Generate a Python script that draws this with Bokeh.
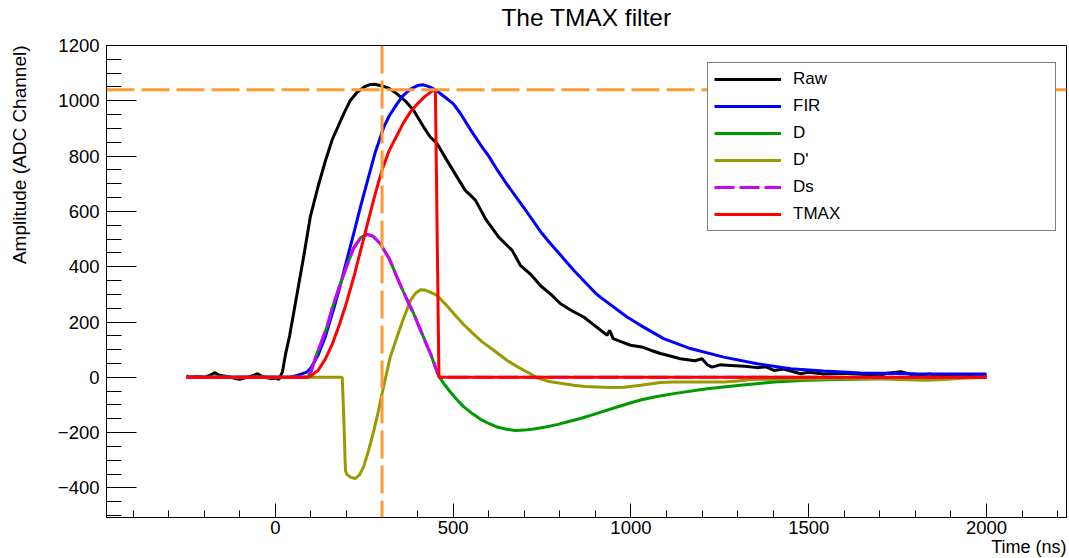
import numpy as np
from bokeh.plotting import figure
from bokeh.models import (Range1d, SingleIntervalTicker, FixedTicker, LinearAxis, Span,
                          Title, Legend, LegendItem, CustomJSTickFormatter)
from bokeh.embed import file_html
from bokeh.resources import INLINE

# ---- waveform samples (time in ns, amplitude in ADC channels) ----
raw_t = [-250, -240, -220, -200, -180, -170, -160, -145, -130, -110, -100, -80, -60, -50,
         -40, -20, -10, 0, 10, 20, 28, 40, 61, 80, 98, 120, 141, 160, 192, 210, 230, 250,
         267, 280, 305, 320, 342, 365, 389, 417, 435, 455, 480, 511, 534, 549, 563, 591,
         628, 666, 689, 720, 745, 775, 802, 835, 867, 900, 933, 940, 950, 970, 999, 1030,
         1055, 1083, 1102, 1139, 1180, 1200, 1215, 1228, 1250, 1280, 1320, 1355, 1380,
         1402, 1430, 1477, 1500, 1542, 1600, 1646, 1700, 1720, 1760, 1800, 1840, 1880,
         1920, 1960, 2000]
raw_v = [5, 0, 3, 0, 10, 17, 8, 5, 2, -5, -7, 0, 8, 13,
         5, -3, -5, -3, -7, 20, 80, 150, 302, 440, 579, 690, 784, 860, 953, 1000, 1031, 1050,
         1059, 1060, 1052, 1045, 1025, 1000, 965, 905, 870, 845, 790, 724, 676, 658, 640, 573,
         507, 459, 405, 370, 332, 300, 266, 240, 218, 185, 152, 170, 140, 130, 116, 110,
         98, 86, 80, 67, 60, 67, 45, 37, 45, 43, 40, 35, 38,
         25, 30, 13, 18, 12, 15, 11, 5, 15, 20, 5, 12, 3,
         10, 2, 8]

fir_t = [-250, 40, 61, 89, 100, 120, 140, 164, 180, 200, 220, 240, 267, 280, 305, 320, 342,
         360, 380, 400, 415, 430, 445, 460, 480, 500, 520, 550, 580, 600, 624, 650, 698, 750,
         774, 800, 839, 900, 914, 989, 1027, 1092, 1167, 1261, 1355, 1449, 1542, 1646, 1800,
         2000]
fir_v = [0, 0, 7, 19, 35, 80, 145, 248, 320, 420, 519, 620, 748, 810, 905, 945, 989,
         1020, 1042, 1055, 1058, 1052, 1043, 1030, 1010, 990, 955, 893, 835, 800, 750, 700, 615, 520,
         483, 445, 387, 305, 290, 218, 188, 140, 104, 73, 49, 31, 23, 16, 13,
         12]

d_t = [-250, 90, 100, 117, 130, 145, 160, 183, 200, 220, 240, 258, 275, 295, 320, 342, 365,
       389, 410, 436, 455, 462, 475, 492, 510, 530, 555, 577, 600, 624, 650, 675, 700, 727,
       760, 792, 825, 858, 900, 950, 1000, 1027, 1070, 1120, 1214, 1308, 1402, 1495, 1589,
       1700, 1800, 1900, 2000]
d_v = [0, 0, 20, 86, 130, 182, 250, 339, 400, 467, 505, 517, 510, 483, 430, 362, 295,
       230, 165, 86, 19, 0, -25, -53, -80, -107, -132, -152, -167, -180, -188, -192, -191, -187,
       -180, -171, -160, -149, -132, -112, -92, -82, -70, -59, -41, -29, -17, -11, -8,
       -5, -3, -1, 0]

dp_t = [-250, 188, 192, 197, 201, 212, 225, 237, 248, 262, 277, 290, 300, 312, 323, 342, 360,
        380, 395, 408, 420, 435, 455, 480, 502, 530, 550, 580, 614, 652, 685, 717, 736, 770,
        811, 839, 870, 942, 980, 1027, 1083, 1120, 1200, 1261, 1300, 1336, 1400, 1500, 1600,
        1700, 1770, 1830, 1880, 1930, 2000]
dp_v = [0, 0, -131, -336, -351, -362, -366, -352, -324, -265, -192, -120, -59, 10, 73, 146, 212,
        278, 305, 317, 316, 308, 296, 262, 230, 190, 165, 130, 98, 61, 35, 13, -2, -15,
        -23, -29, -33, -37, -36, -29, -19, -17, -17, -17, -13, -8, -7, -6, -5,
        -5, -9, -11, -8, -3, 0]

ds_t = [-250, 90, 100, 117, 130, 145, 160, 183, 200, 220, 240, 258, 275, 295, 320, 342, 365,
        389, 410, 436, 455, 462, 2000]
ds_v = [0, 0, 20, 86, 130, 182, 250, 339, 400, 467, 505, 517, 510, 483, 430, 362, 295,
        230, 165, 86, 19, 0, 0]

tmax_t = [-250, 90, 100, 120, 140, 160, 180, 200, 220, 240, 260, 280, 300, 320, 340, 360,
          380, 400, 420, 440, 450, 460, 2000]
tmax_v = [0, 0, 5, 25, 65, 120, 190, 270, 360, 460, 560, 660, 750, 820, 870, 920,
          960, 990, 1015, 1034, 1040, 0, 0]

# markers of the TMAX result
mark_time = 300
mark_amp = 1040

FONT = "Liberation Sans"

p = figure(width=1069, height=558, output_backend="svg", toolbar_location=None,
           title=None,
           x_range=Range1d(-475, 2225), y_range=Range1d(-507, 1200),
           min_border_left=106, min_border_right=3, min_border_top=45,
           min_border_bottom=41)
p.background_fill_color = "white"
p.border_fill_color = "white"
p.outline_line_color = "black"
p.outline_line_width = 1
p.xgrid.visible = False
p.ygrid.visible = False

p.xaxis.ticker = SingleIntervalTicker(interval=500, num_minor_ticks=5)
p.yaxis.ticker = SingleIntervalTicker(interval=200, num_minor_ticks=4)
minus_fmt = "return tick < 0 ? '\u2212' + Math.abs(tick) : String(tick);"
p.xaxis.formatter = CustomJSTickFormatter(code=minus_fmt)
p.yaxis.formatter = CustomJSTickFormatter(code=minus_fmt)

for ax in (p.xaxis[0], p.yaxis[0]):
    ax.axis_line_color = "black"
    ax.axis_line_width = 1
    ax.major_tick_line_color = "black"
    ax.minor_tick_line_color = "black"
    ax.major_tick_out = 0
    ax.minor_tick_out = 0
    ax.major_label_text_font = FONT
    ax.major_label_text_font_size = "18.5px"
    ax.major_label_text_color = "black"

p.xaxis.major_tick_in = 14
p.xaxis.minor_tick_in = 7
p.xaxis.major_label_standoff = 3
p.yaxis.major_tick_in = 30
p.yaxis.minor_tick_in = 15
p.yaxis.major_label_standoff = 7


def label_axis(text, size, standoff):
    """A bare axis that only carries a text label (no line, ticks or numbers)."""
    return LinearAxis(axis_label=text, ticker=FixedTicker(ticks=[]),
                      axis_line_color=None, major_tick_line_color=None,
                      minor_tick_line_color=None, major_tick_out=0, minor_tick_out=0,
                      major_tick_in=0, minor_tick_in=0, major_label_standoff=0,
                      axis_label_standoff=standoff, axis_label_text_font=FONT,
                      axis_label_text_font_size=size, axis_label_text_font_style="normal",
                      axis_label_text_color="black")


# plot title (centred over the frame)
p.add_layout(label_axis("The TMAX filter", "24.5px", 15), "above")
# empty gap between the y numbers and the y title
p.add_layout(label_axis(" ", "1px", 21), "left")
# y title, running down from the top of the axis
y_title = Title(text="Amplitude (ADC Channel)", align="right", text_font=FONT,
                text_font_size="19px", text_font_style="normal",
                text_color="black", standoff=0)
p.add_layout(y_title, "left")

LW = 3
r_raw = p.line(raw_t, raw_v, line_color="black", line_width=LW)
r_fir = p.line(fir_t, fir_v, line_color="#0000ff", line_width=LW)
r_d = p.line(d_t, d_v, line_color="#009900", line_width=LW)
r_dp = p.line(dp_t, dp_v, line_color="#999900", line_width=LW)
r_ds = p.line(ds_t, ds_v, line_color="#cc00ff", line_width=LW, line_dash="20 5")
r_tmax = p.line(tmax_t, tmax_v, line_color="#ff0000", line_width=LW)

orange = "#ff9933"
p.add_layout(Span(location=mark_time, dimension="height", line_color=orange,
                  line_width=3, line_dash="28 7"))
p.add_layout(Span(location=mark_amp, dimension="width", line_color=orange,
                  line_width=3, line_dash="28 7"))

legend = Legend(items=[
    LegendItem(label="Raw", renderers=[r_raw]),
    LegendItem(label="FIR", renderers=[r_fir]),
    LegendItem(label="D", renderers=[r_d]),
    LegendItem(label="D'", renderers=[r_dp]),
    LegendItem(label="Ds", renderers=[r_ds]),
    LegendItem(label="TMAX", renderers=[r_tmax]),
], location=(601, 286))
legend.margin = 0
legend.padding = 6
legend.spacing = 7
legend.glyph_width = 67
legend.glyph_height = 20
legend.label_height = 20
legend.label_width = 256
legend.label_standoff = 12
legend.label_text_font = FONT
legend.label_text_font_size = "17px"
legend.label_text_color = "black"
legend.border_line_color = "black"
legend.border_line_width = 1
legend.background_fill_color = "white"
legend.background_fill_alpha = 1.0
p.add_layout(legend)

# x title at the right end of the time axis
x_title = Title(text="Time (ns)", align="right", text_font=FONT,
                text_font_size="18px", text_font_style="normal",
                text_color="black", standoff=-4)
p.add_layout(x_title, "below")

open("out.html", "w").write(file_html(p, INLINE))
